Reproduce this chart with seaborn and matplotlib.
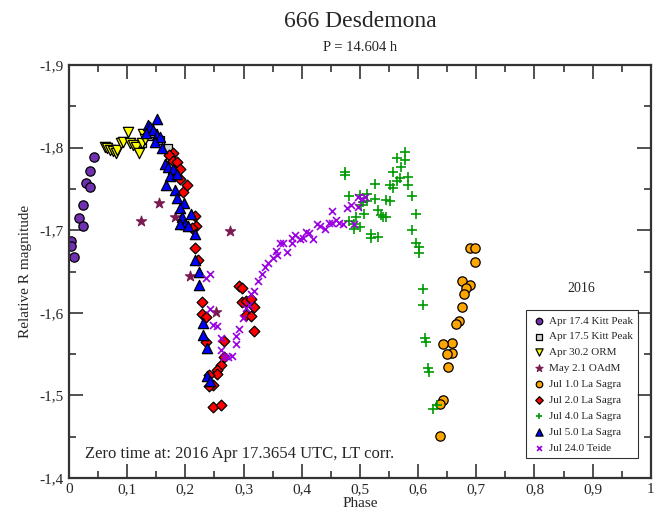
import matplotlib
matplotlib.use("Agg")
import matplotlib.pyplot as plt
import seaborn as sns
from matplotlib.ticker import MultipleLocator, FuncFormatter

sns.set_theme(style="ticks")
plt.rcParams['font.family'] = ['Liberation Serif', 'DejaVu Serif']

# Data: (phase, relative R magnitude)
apr174_phase = [0.043, 0.036, 0.030, 0.036, 0.024, 0.018, 0.024, 0.004, 0.004, 0.009]
apr174_mag = [-1.789, -1.772, -1.757, -1.752, -1.731, -1.715, -1.705, -1.687, -1.681, -1.668]

apr175_phase = [0.125, 0.137, 0.144, 0.156, 0.170, 0.174, 0.186]
apr175_mag = [-1.805, -1.814, -1.818, -1.809, -1.800, -1.789, -1.766]

apr302_phase = [0.062, 0.066, 0.070, 0.075, 0.081, 0.083, 0.089, 0.093, 0.102,
                0.105, 0.110, 0.115, 0.121, 0.125, 0.127, 0.131]
apr302_mag = [-1.801, -1.800, -1.797, -1.796, -1.793, -1.797, -1.806, -1.807, -1.819,
              -1.805, -1.803, -1.801, -1.793, -1.805, -1.817, -1.810]

may21_phase = [0.124, 0.155, 0.182, 0.277, 0.208, 0.253]
may21_mag = [-1.711, -1.733, -1.716, -1.699, -1.645, -1.601]

jul10_phase = [0.690, 0.698, 0.698, 0.676, 0.690, 0.683, 0.679, 0.675, 0.670, 0.665,
               0.658, 0.643, 0.658, 0.649, 0.651, 0.643, 0.637, 0.637]
jul10_mag = [-1.678, -1.679, -1.662, -1.639, -1.634, -1.630, -1.623, -1.607, -1.590, -1.587,
             -1.563, -1.562, -1.551, -1.550, -1.534, -1.495, -1.490, -1.451]

jul20_phase = [0.178, 0.172, 0.179, 0.185, 0.182, 0.191, 0.190, 0.203, 0.196, 0.218,
               0.211, 0.216, 0.216, 0.222, 0.228, 0.228, 0.235, 0.235, 0.267, 0.267,
               0.261, 0.254, 0.255, 0.241, 0.248, 0.241, 0.293, 0.298, 0.298, 0.305,
               0.312, 0.318, 0.305, 0.312, 0.318, 0.248, 0.261]
jul20_mag = [-1.793, -1.791, -1.784, -1.782, -1.772, -1.774, -1.762, -1.755, -1.746, -1.705,
             -1.703, -1.717, -1.678, -1.664, -1.613, -1.599, -1.595, -1.565, -1.566, -1.546,
             -1.537, -1.531, -1.526, -1.525, -1.513, -1.512, -1.633, -1.630, -1.613, -1.614,
             -1.617, -1.607, -1.597, -1.596, -1.578, -1.486, -1.488]

jul40_phase = [0.475, 0.475, 0.564, 0.577, 0.577, 0.570, 0.557, 0.583, 0.569, 0.563,
               0.552, 0.556, 0.583, 0.526, 0.513, 0.500, 0.482, 0.526, 0.545, 0.552,
               0.589, 0.506, 0.512, 0.501, 0.531, 0.507, 0.493, 0.537, 0.545, 0.539,
               0.596, 0.482, 0.489, 0.500, 0.489, 0.589, 0.519, 0.519, 0.531, 0.596,
               0.602, 0.602, 0.609, 0.609, 0.612, 0.614, 0.617, 0.619, 0.625, 0.632]
jul40_mag = [-1.770, -1.767, -1.788, -1.795, -1.785, -1.776, -1.771, -1.765, -1.763, -1.760,
             -1.755, -1.751, -1.755, -1.756, -1.744, -1.743, -1.742, -1.738, -1.736, -1.735,
             -1.742, -1.734, -1.735, -1.731, -1.724, -1.720, -1.716, -1.719, -1.716, -1.716,
             -1.720, -1.711, -1.707, -1.704, -1.701, -1.700, -1.695, -1.690, -1.692, -1.685,
             -1.680, -1.672, -1.629, -1.610, -1.570, -1.565, -1.533, -1.528, -1.484, -1.489]

jul50_phase = [0.152, 0.135, 0.140, 0.145, 0.132, 0.151, 0.156, 0.148, 0.159, 0.165,
               0.171, 0.179, 0.174, 0.185, 0.167, 0.182, 0.186, 0.198, 0.191, 0.209,
               0.194, 0.199, 0.191, 0.205, 0.216, 0.216, 0.224, 0.224, 0.230, 0.230,
               0.237, 0.237, 0.242]
jul50_mag = [-1.835, -1.827, -1.825, -1.821, -1.818, -1.815, -1.813, -1.807, -1.800, -1.780,
             -1.776, -1.774, -1.766, -1.768, -1.755, -1.749, -1.739, -1.733, -1.727, -1.720,
             -1.716, -1.707, -1.707, -1.705, -1.696, -1.664, -1.649, -1.634, -1.588, -1.573,
             -1.557, -1.523, -1.518]

jul240_phase = [0.235, 0.242, 0.242, 0.248, 0.255, 0.261, 0.261, 0.266, 0.274, 0.280,
                0.287, 0.287, 0.293, 0.299, 0.305, 0.310, 0.312, 0.318, 0.325, 0.331,
                0.337, 0.342, 0.350, 0.357, 0.356, 0.363, 0.368, 0.375, 0.383, 0.383,
                0.388, 0.397, 0.402, 0.407, 0.413, 0.420, 0.427, 0.432, 0.440, 0.446,
                0.452, 0.459, 0.464, 0.471, 0.452, 0.477, 0.484, 0.490, 0.497, 0.497,
                0.503, 0.509]
jul240_mag = [-1.642, -1.647, -1.605, -1.585, -1.584, -1.570, -1.555, -1.547, -1.547, -1.548,
              -1.562, -1.572, -1.580, -1.594, -1.606, -1.610, -1.623, -1.626, -1.639, -1.647,
              -1.655, -1.660, -1.666, -1.670, -1.675, -1.684, -1.684, -1.674, -1.684, -1.690,
              -1.694, -1.689, -1.690, -1.698, -1.697, -1.689, -1.708, -1.705, -1.701, -1.709,
              -1.709, -1.712, -1.709, -1.707, -1.723, -1.727, -1.731, -1.707, -1.728, -1.740,
              -1.738, -1.740]

series = [
    ("Apr 17.4 Kitt Peak", apr174_phase, apr174_mag, "o", "#7030b0"),
    ("Apr 17.5 Kitt Peak", apr175_phase, apr175_mag, "s", "#d3d3d3"),
    ("Apr 30.2 ORM", apr302_phase, apr302_mag, "v", "#ffff00"),
    ("May 2.1 OAdM", may21_phase, may21_mag, "*", "#7a1a50"),
    ("Jul 1.0 La Sagra", jul10_phase, jul10_mag, "o", "#ffa500"),
    ("Jul 2.0 La Sagra", jul20_phase, jul20_mag, "D", "#ff0000"),
    ("Jul 4.0 La Sagra", jul40_phase, jul40_mag, "+", "#009a00"),
    ("Jul 5.0 La Sagra", jul50_phase, jul50_mag, "^", "#0000ff"),
    ("Jul 24.0 Teide", jul240_phase, jul240_mag, "x", "#9a00e0"),
]

fig = plt.figure(figsize=(6.62, 5.15), dpi=100)
ax = fig.add_axes([0.1042, 0.0718, 0.879, 0.802])

for name, px, py, mk, col in series:
    if mk in ("+", "x"):
        size = 45 if mk == "+" else 25
        sns.scatterplot(x=px, y=py, ax=ax, marker=mk, color=col, s=size,
                        linewidth=1.2, label=name)
    elif mk == "*":
        sns.scatterplot(x=px, y=py, ax=ax, marker=mk, color=col, s=60,
                        edgecolor=col, linewidth=0.8, label=name)
    else:
        size = {"D": 30, "o": 45, "s": 40, "v": 55, "^": 55}[mk]
        sns.scatterplot(x=px, y=py, ax=ax, marker=mk, color=col, s=size,
                        edgecolor="black", linewidth=0.9, label=name)

ax.set_xlim(0, 1)
ax.set_ylim(-1.4, -1.9)
ax.xaxis.set_major_locator(MultipleLocator(0.1))
ax.xaxis.set_minor_locator(MultipleLocator(0.05))
ax.yaxis.set_major_locator(MultipleLocator(0.1))
ax.yaxis.set_minor_locator(MultipleLocator(0.05))
fmt = FuncFormatter(lambda v, p: ("%g" % round(v, 2)).replace(".", ","))
ax.xaxis.set_major_formatter(fmt)
ax.yaxis.set_major_formatter(fmt)
ax.tick_params(which="both", direction="in", top=True, right=True, labelsize=11,
               color="#333333", width=1.2)
ax.tick_params(which="major", length=10)
ax.tick_params(which="minor", length=5)
for sp in ax.spines.values():
    sp.set_linewidth(1.6)
    sp.set_color("#333333")

ax.set_xlabel("Phase", fontsize=11, labelpad=1)
ax.set_ylabel("Relative R magnitude", fontsize=11, labelpad=6)

fig.text(0.544, 0.958, "666 Desdemona", ha="center", va="center", fontsize=17)
fig.text(0.544, 0.908, "P = 14.604 h", ha="center", va="center", fontsize=10.5)

ax.text(0.027, 0.058, "Zero time at: 2016 Apr 17.3654 UTC, LT corr.",
        transform=ax.transAxes, fontsize=12, va="center", ha="left")
ax.text(0.881, 0.458, "2016", transform=ax.transAxes, fontsize=10,
        ha="center", va="center")

leg = ax.legend(loc="lower right", bbox_to_anchor=(0.978, 0.048), borderaxespad=0,
                fontsize=8, markerscale=0.7, frameon=True, fancybox=False,
                handletextpad=0.3, labelspacing=0.55, borderpad=0.5,
                handlelength=1.2)
leg.get_frame().set_edgecolor("black")
leg.get_frame().set_linewidth(0.8)

fig.savefig("out.png", dpi=100)
